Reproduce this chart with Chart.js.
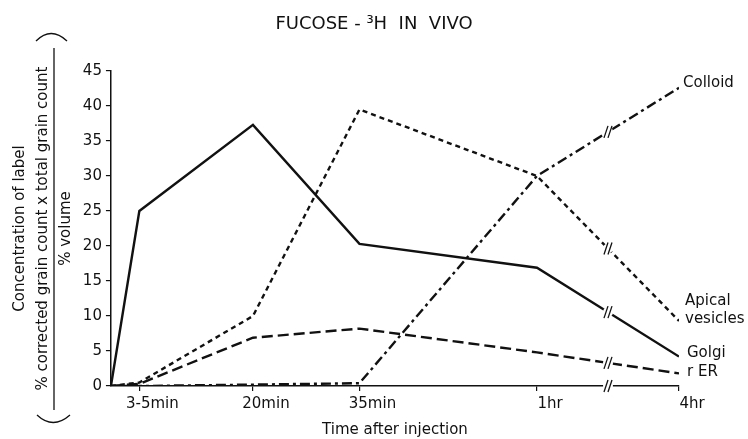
<!DOCTYPE html>
<html>
<head>
<meta charset="utf-8">
<title>Fucose-3H in vivo</title>
<script src="https://cdn.jsdelivr.net/npm/chart.js@4.4.1/dist/chart.umd.min.js"></script>
<style>
  html, body { margin: 0; padding: 0; background: #fff; }
  #wrap { width: 748px; height: 439px; }
</style>
</head>
<body>
<div id="wrap"><canvas id="fucoseChart" width="748" height="439"></canvas></div>
<script>
// Time after injection, in minutes (4hr sits after a break at 80)
const timePoints = [0, 4, 20, 35, 60, 80];
const tickPositions = [4, 20, 35, 60, 80];
const tickLabels = ['3-5min', '20min', '35min', '1hr', '4hr'];
const breakAt = 70;

// Concentration of label
const golgi = [0, 25, 37.3, 20.3, 16.9, 4.2];
const apicalVesicles = [0, 0.5, 10, 39.5, 30, 9.3];
const rER = [0, 0.3, 6.9, 8.2, 4.8, 1.8];
const colloid = [0, 0, 0.2, 0.4, 30, 42.6];

const ink = '#111';
Chart.defaults.font.family = "'DejaVu Sans', sans-serif";
Chart.defaults.color = ink;

const toPoints = values => values.map((v, i) => ({ x: timePoints[i], y: v }));

function lineSet(label, values, dash) {
  return {
    label: label,
    data: toPoints(values),
    borderColor: ink,
    borderWidth: 2.4,
    borderDash: dash,
    pointRadius: 0,
    tension: 0,
    fill: false
  };
}

// labels at the right hand end of each curve
const endLabels = [
  { ds: 3, lines: ['Colloid'], dx: 4, dy: -5 },
  { ds: 1, lines: ['Apical', 'vesicles'], dx: 6, dy: -20 },
  { ds: 0, lines: ['Golgi'], dx: 8, dy: -3 },
  { ds: 2, lines: ['r ER'], dx: 8, dy: -1 }
];

const decorations = {
  id: 'decorations',
  afterDraw(chart) {
    const ctx = chart.ctx;
    const x = chart.scales.x;
    const y = chart.scales.y;
    ctx.save();
    ctx.fillStyle = ink;
    ctx.strokeStyle = ink;

    // title
    ctx.font = "18px 'DejaVu Sans'";
    ctx.textAlign = 'center';
    ctx.textBaseline = 'middle';
    ctx.fillText('FUCOSE - ³H  IN  VIVO', chart.width / 2, 24);

    // fraction bar and brackets of the y title
    ctx.lineWidth = 1.3;
    ctx.beginPath();
    ctx.moveTo(54, 48);
    ctx.lineTo(54, 410);
    ctx.stroke();
    ctx.beginPath();
    ctx.moveTo(36, 41);
    ctx.quadraticCurveTo(51, 26, 67, 41);
    ctx.stroke();
    ctx.beginPath();
    ctx.moveTo(37, 415);
    ctx.quadraticCurveTo(53, 430, 70, 415);
    ctx.stroke();

    // breaks between 1hr and 4hr
    const drawBreak = (px, py) => {
      ctx.fillStyle = '#fff';
      ctx.beginPath();
      ctx.arc(px, py, 5, 0, Math.PI * 2);
      ctx.fill();
      ctx.lineWidth = 1.3;
      [-2, 2].forEach(o => {
        ctx.beginPath();
        ctx.moveTo(px + o - 2, py + 6);
        ctx.lineTo(px + o + 2, py - 6);
        ctx.stroke();
      });
    };
    const f = (breakAt - timePoints[4]) / (timePoints[5] - timePoints[4]);
    chart.data.datasets.forEach(ds => {
      const a = ds.data[4].y, b = ds.data[5].y;
      drawBreak(x.getPixelForValue(breakAt), y.getPixelForValue(a + (b - a) * f));
    });
    drawBreak(x.getPixelForValue(breakAt), y.bottom);

    // end labels
    ctx.fillStyle = ink;
    ctx.font = "15px 'DejaVu Sans'";
    ctx.textAlign = 'left';
    endLabels.forEach(l => {
      const d = chart.data.datasets[l.ds].data;
      const last = d[d.length - 1];
      const px = x.getPixelForValue(last.x) + l.dx;
      const py = y.getPixelForValue(last.y) + l.dy;
      l.lines.forEach((t, i) => ctx.fillText(t, px, py + i * 18));
    });
    ctx.restore();
  }
};

new Chart(document.getElementById('fucoseChart'), {
  type: 'line',
  data: {
    datasets: [
      lineSet('Golgi', golgi, []),
      lineSet('Apical vesicles', apicalVesicles, [5, 4]),
      lineSet('r ER', rER, [11, 5]),
      lineSet('Colloid', colloid, [10, 4, 3, 4])
    ]
  },
  options: {
    responsive: false,
    animation: false,
    layout: { padding: { left: 9, right: 69, top: 71, bottom: 0 } },
    plugins: {
      legend: { display: false },
      tooltip: { enabled: false }
    },
    scales: {
      x: {
        type: 'linear',
        min: 0,
        max: 80,
        afterBuildTicks: scale => {
          scale.ticks = tickPositions.map(v => ({ value: v }));
        },
        ticks: {
          autoSkip: false,
          maxRotation: 0,
          padding: 4,
          labelOffset: 13,
          font: { size: 15 },
          callback: value => tickLabels[tickPositions.indexOf(value)]
        },
        grid: { drawOnChartArea: false, tickLength: 5, color: ink, lineWidth: 1.2 },
        border: { color: ink, width: 1.5 },
        title: {
          display: true,
          text: 'Time after injection',
          font: { size: 15 },
          padding: { top: 4, bottom: 0 }
        }
      },
      y: {
        min: 0,
        max: 45,
        ticks: { stepSize: 5, padding: 4, font: { size: 15 } },
        grid: { drawOnChartArea: false, tickLength: 5, color: ink, lineWidth: 1.2 },
        border: { color: ink, width: 1.5 },
        title: {
          display: true,
          text: ['Concentration of label', '% corrected grain count x total grain count', '% volume'],
          font: { size: 15, lineHeight: 1.53 },
          padding: { top: 0, bottom: 1 }
        }
      }
    }
  },
  plugins: [decorations]
});
</script>
</body>
</html>
